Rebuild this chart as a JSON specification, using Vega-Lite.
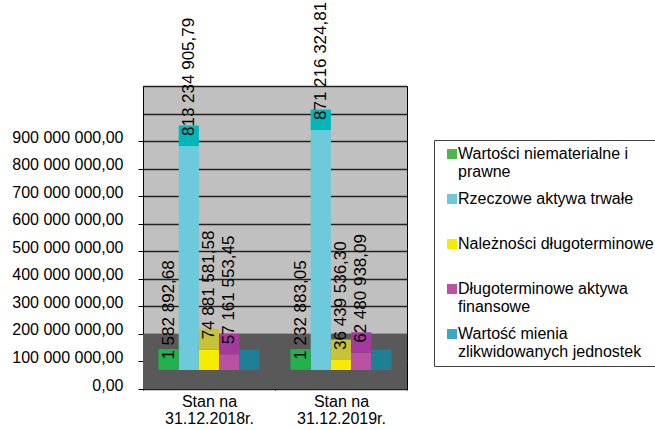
{
  "$schema": "https://vega.github.io/schema/vega-lite/v6.json",
  "width": 264,
  "height": 303,
  "autosize": {"type": "none"},
  "padding": {"left": 143, "top": 86, "right": 248, "bottom": 41},
  "data": {
    "values": [
      {"stan": "Stan na 31.12.2018r.", "series": "Wartości niematerialne i prawne", "value": 1582892.68},
      {"stan": "Stan na 31.12.2018r.", "series": "Rzeczowe aktywa trwałe", "value": 813234905.79},
      {"stan": "Stan na 31.12.2018r.", "series": "Należności długoterminowe", "value": 74881581.58},
      {"stan": "Stan na 31.12.2018r.", "series": "Długoterminowe aktywa finansowe", "value": 57161553.45},
      {"stan": "Stan na 31.12.2018r.", "series": "Wartość mienia zlikwidowanych jednostek", "value": 0},
      {"stan": "Stan na 31.12.2019r.", "series": "Wartości niematerialne i prawne", "value": 1232883.05},
      {"stan": "Stan na 31.12.2019r.", "series": "Rzeczowe aktywa trwałe", "value": 871216324.81},
      {"stan": "Stan na 31.12.2019r.", "series": "Należności długoterminowe", "value": 36439536.30},
      {"stan": "Stan na 31.12.2019r.", "series": "Długoterminowe aktywa finansowe", "value": 62480938.09},
      {"stan": "Stan na 31.12.2019r.", "series": "Wartość mienia zlikwidowanych jednostek", "value": 0}
    ]
  },
  "layer": [
    {
      "data": {"values": [{}]},
      "mark": {"type": "rect", "color": "#595959", "opacity": 1},
      "encoding": {
        "x": {"value": 0},
        "x2": {"value": "width"},
        "y": {"datum": 0, "type": "quantitative"},
        "y2": {"datum": 200000000}
      }
    },
    {
      "mark": {"type": "bar", "yOffset": -19, "opacity": 1},
      "encoding": {
        "x": {
          "field": "stan", "type": "nominal",
          "scale": {"paddingInner": 0, "paddingOuter": 0},
          "axis": {
            "title": null, "labelAngle": 0,
            "labelExpr": "isValid(datum.label) && datum.label != '' ? ['Stan na', replace(datum.label, 'Stan na ', '')] : ''",
            "labelFlush": false, "labelAlign": "center",
            "tickBand": "extent", "domain": false, "grid": false,
            "tickSize": 5, "tickColor": "#000",
            "labelFont": "Liberation Sans", "labelFontSize": 16, "labelColor": "#000",
            "labelLineHeight": 17, "labelPadding": 3, "offset": -4
          }
        },
        "xOffset": {
          "field": "series", "type": "nominal",
          "sort": ["Wartości niematerialne i prawne", "Rzeczowe aktywa trwałe", "Należności długoterminowe", "Długoterminowe aktywa finansowe", "Wartość mienia zlikwidowanych jednostek"],
          "scale": {"paddingInner": 0, "paddingOuter": 0.767}
        },
        "y": {
          "field": "value", "type": "quantitative",
          "scale": {"domain": [0, 1100000000], "nice": false, "zero": true},
          "axis": {
            "title": null,
            "tickCount": 30,
            "values": [0, 100000000, 200000000, 300000000, 400000000, 500000000, 600000000, 700000000, 800000000, 900000000, 1000000000, 1100000000],
            "format": ",.2f",
            "labelExpr": "datum.value > 900000000 ? '' : datum.label",
            "labelOverlap": false,
            "labelBound": false,
            "tickSize": 5,
            "tickColor": {"condition": {"test": "datum.value > 900000000", "value": "transparent"}, "value": "#000"},
            "labelPadding": 15, "labelOffset": -4,
            "labelFont": "Liberation Sans", "labelFontSize": 16, "labelColor": "#000",
            "grid": true, "gridColor": "#222222", "gridWidth": 1.3,
            "domain": true, "domainColor": "#000"
          }
        },
        "color": {
          "field": "series", "type": "nominal",
          "scale": {
            "domain": ["Wartości niematerialne i prawne", "Rzeczowe aktywa trwałe", "Należności długoterminowe", "Długoterminowe aktywa finansowe", "Wartość mienia zlikwidowanych jednostek"],
            "range": ["#4cb848", "#6ccadc", "#f7ec00", "#bc50a4", "#3aa8c6"]
          },
          "legend": {
            "orient": "none", "legendX": 291, "legendY": 54,
            "title": null, "symbolType": "square", "symbolSize": 100, "symbolStrokeWidth": 0,
            "symbolOffset": 4,
            "labelFont": "Liberation Sans", "labelFontSize": 16, "labelColor": "#000",
            "labelBaseline": "middle", "labelOffset": -2, "labelLimit": 400,
            "strokeColor": "#404040", "fillColor": "#ffffff", "padding": 6, "rowPadding": 11,
            "labelExpr": "datum.label == 'Wartości niematerialne i prawne' ? ['Wartości niematerialne i', 'prawne'] : datum.label == 'Długoterminowe aktywa finansowe' ? ['Długoterminowe aktywa', 'finansowe'] : datum.label == 'Wartość mienia zlikwidowanych jednostek' ? ['Wartość mienia', 'zlikwidowanych jednostek'] : [datum.label, '']"
          }
        }
      }
    },
    {
      "mark": {"type": "tick", "thickness": 20.5, "size": 20.2, "yOffset": -29.25, "opacity": 1},
      "encoding": {
        "x": {"field": "stan", "type": "nominal"},
        "xOffset": {
          "field": "series", "type": "nominal",
          "sort": ["Wartości niematerialne i prawne", "Rzeczowe aktywa trwałe", "Należności długoterminowe", "Długoterminowe aktywa finansowe", "Wartość mienia zlikwidowanych jednostek"]
        },
        "y": {"field": "value", "type": "quantitative"},
        "color": {
          "field": "series", "type": "nominal",
          "scale": {
            "domain": ["Wartości niematerialne i prawne", "Rzeczowe aktywa trwałe", "Należności długoterminowe", "Długoterminowe aktywa finansowe", "Wartość mienia zlikwidowanych jednostek"],
            "range": ["#22b24c", "#00b8bc", "#c6c23a", "#a43a9e", "#1f7f96"]
          },
          "legend": null
        }
      }
    },
    {
      "transform": [{"filter": "datum.value > 0"}],
      "mark": {"type": "text", "angle": 270, "align": "left", "baseline": "middle", "fontSize": 17, "font": "Liberation Sans", "color": "#000", "yOffset": -29},
      "encoding": {
        "x": {"field": "stan", "type": "nominal"},
        "xOffset": {
          "field": "series", "type": "nominal",
          "sort": ["Wartości niematerialne i prawne", "Rzeczowe aktywa trwałe", "Należności długoterminowe", "Długoterminowe aktywa finansowe", "Wartość mienia zlikwidowanych jednostek"]
        },
        "y": {"field": "value", "type": "quantitative"},
        "text": {"field": "value", "type": "quantitative", "format": ",.2f"}
      }
    }
  ],
  "resolve": {"scale": {"color": "independent"}},
  "config": {
    "font": "Liberation Sans",
    "background": "#ffffff",
    "locale": {"number": {"decimal": ",", "thousands": " ", "grouping": [3], "currency": ["", ""]}},
    "view": {"fill": "#c0c0c0", "stroke": "#000000", "strokeWidth": 1},
    "legend": {"labelLineHeight": 19}
  }
}
